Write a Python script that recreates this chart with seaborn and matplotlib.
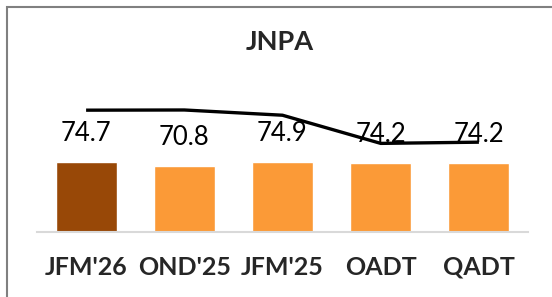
import numpy as np
import pandas as pd
import matplotlib
matplotlib.use("Agg")
import matplotlib.pyplot as plt
from matplotlib.patches import Rectangle
import seaborn as sns

# chart data
categories = ["JFM'26", "OND'25", "JFM'25", "OADT", "QADT"]
bar_values = [74.7, 70.8, 74.9, 74.2, 74.2]
line_values = [130.2, 130.4, 124.8, 94.7, 96.0]
bar_colors = ["#984807", "#FB9A37", "#FB9A37", "#FB9A37", "#FB9A37"]


def main():
    sns.set_style("white")
    plt.rcParams["font.family"] = ["Lato", "DejaVu Sans"]

    df = pd.DataFrame({"period": categories, "value": bar_values})

    fig = plt.figure(figsize=(5.52, 2.97), dpi=100)
    ax = fig.add_axes([37 / 552, 65 / 297, 491 / 552, 131 / 297])

    sns.barplot(data=df, x="period", y="value", hue="period",
                palette=bar_colors, width=0.62, legend=False,
                saturation=1, ax=ax)
    sns.lineplot(x=np.arange(len(categories)), y=line_values, color="black",
                 linewidth=2.4, ax=ax, solid_capstyle="butt")

    # value labels above bars
    for i, v in enumerate(bar_values):
        ax.annotate(f"{v:.1f}", (i, v), xytext=(0, 15), textcoords="offset points",
                    ha="center", va="baseline", fontsize=18.5, color="black")

    ax.set_xlim(-0.5, len(categories) - 0.5)
    ax.set_ylim(0, 140)
    ax.set_xlabel("")
    ax.set_ylabel("")
    ax.set_yticks([])
    ax.tick_params(axis="x", length=0, pad=17)
    for lbl in ax.get_xticklabels():
        lbl.set_fontweight("bold")
        lbl.set_fontsize(18)
    for s in ["top", "right", "left"]:
        ax.spines[s].set_visible(False)
    ax.spines["bottom"].set_color("#D9D9D9")
    ax.spines["bottom"].set_linewidth(1.5)

    fig.text(280 / 552, 1 - 42 / 297, "JNPA", ha="center", va="center",
             fontsize=19.5, fontweight="bold")

    # chart frame (cut on the right and bottom like the reference)
    fig.patches.append(Rectangle((7 / 552, -0.2), 1.2, 1.2 - 7 / 297,
                                 transform=fig.transFigure, fill=False,
                                 edgecolor="#808080", linewidth=1.5))

    fig.savefig("out.png", dpi=100)
    plt.close(fig)


if __name__ == "__main__":
    main()
